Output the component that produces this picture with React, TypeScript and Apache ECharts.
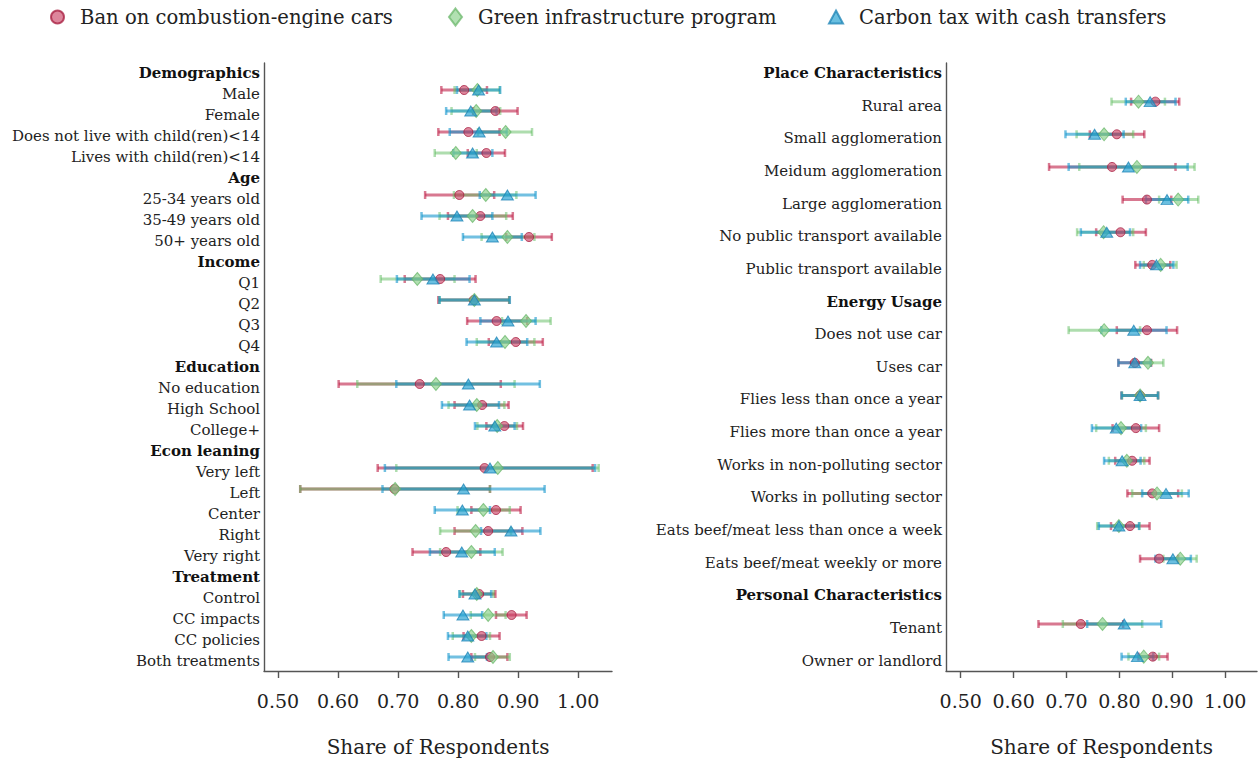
import React, { useEffect, useRef } from "react";
import * as echarts from "echarts";

const POLICIES = [
  "Ban on combustion-engine cars",
  "Green infrastructure program",
  "Carbon tax with cash transfers",
];

const X_TICKS = [0.5, 0.6, 0.7, 0.8, 0.9, 1.0];

// ---------- Left panel ----------
const leftLabels = [
  "Demographics", "Male", "Female", "Does not live with child(ren)<14", "Lives with child(ren)<14",
  "Age", "25-34 years old", "35-49 years old", "50+ years old",
  "Income", "Q1", "Q2", "Q3", "Q4",
  "Education", "No education", "High School", "College+",
  "Econ leaning", "Very left", "Left", "Center", "Right", "Very right",
  "Treatment", "Control", "CC impacts", "CC policies", "Both treatments",
];
// [estimate, low, high]; null = section header
const leftBan = [
  null, [0.81, 0.772, 0.848], [0.862, 0.825, 0.899], [0.817, 0.767, 0.869], [0.847, 0.816, 0.878],
  null, [0.802, 0.745, 0.86], [0.837, 0.783, 0.891], [0.918, 0.88, 0.956],
  null, [0.77, 0.711, 0.829], [0.826, 0.767, 0.885], [0.864, 0.815, 0.915], [0.896, 0.851, 0.941],
  null, [0.736, 0.601, 0.871], [0.84, 0.794, 0.884], [0.877, 0.847, 0.908],
  null, [0.844, 0.666, 1.024], [0.694, 0.537, 0.853], [0.863, 0.822, 0.904], [0.85, 0.794, 0.907], [0.78, 0.724, 0.837],
  null, [0.835, 0.808, 0.862], [0.889, 0.863, 0.914], [0.839, 0.809, 0.869], [0.853, 0.822, 0.882],
];
const leftGreen = [
  null, [0.832, 0.794, 0.869], [0.83, 0.789, 0.87], [0.879, 0.833, 0.923], [0.796, 0.761, 0.831],
  null, [0.846, 0.793, 0.897], [0.824, 0.769, 0.88], [0.882, 0.839, 0.927],
  null, [0.732, 0.671, 0.794], [0.827, 0.769, 0.885], [0.913, 0.873, 0.954], [0.878, 0.831, 0.927],
  null, [0.763, 0.632, 0.894], [0.831, 0.784, 0.877], [0.865, 0.832, 0.898],
  null, [0.866, 0.697, 1.034], [0.695, 0.537, 0.853], [0.842, 0.799, 0.886], [0.829, 0.77, 0.888], [0.822, 0.77, 0.874],
  null, [0.831, 0.803, 0.859], [0.85, 0.821, 0.879], [0.822, 0.791, 0.853], [0.858, 0.828, 0.886],
];
const leftCarbon = [
  null, [0.834, 0.798, 0.87], [0.821, 0.78, 0.864], [0.835, 0.786, 0.881], [0.824, 0.792, 0.857],
  null, [0.882, 0.836, 0.929], [0.798, 0.739, 0.857], [0.857, 0.808, 0.906],
  null, [0.758, 0.698, 0.819], [0.827, 0.769, 0.886], [0.883, 0.837, 0.929], [0.864, 0.814, 0.915],
  null, [0.817, 0.697, 0.936], [0.819, 0.773, 0.868], [0.861, 0.828, 0.894],
  null, [0.853, 0.678, 1.028], [0.809, 0.674, 0.944], [0.807, 0.761, 0.853], [0.888, 0.838, 0.937], [0.806, 0.753, 0.861],
  null, [0.828, 0.802, 0.855], [0.808, 0.776, 0.84], [0.816, 0.783, 0.847], [0.816, 0.784, 0.848],
];

// ---------- Right panel ----------
const rightLabels = [
  "Place Characteristics", "Rural area", "Small agglomeration", "Meidum agglomeration", "Large agglomeration",
  "No public transport available", "Public transport available",
  "Energy Usage", "Does not use car", "Uses car", "Flies less than once a year", "Flies more than once a year",
  "Works in non-polluting sector", "Works in polluting sector", "Eats beef/meat less than once a week",
  "Eats beef/meat weekly or more",
  "Personal Characteristics", "Tenant", "Owner or landlord",
];
const rightBan = [
  null, [0.868, 0.822, 0.913], [0.795, 0.744, 0.847], [0.786, 0.667, 0.906], [0.852, 0.806, 0.898],
  [0.802, 0.756, 0.85], [0.862, 0.83, 0.896],
  null, [0.852, 0.795, 0.909], [0.829, 0.798, 0.86], [0.839, 0.804, 0.873], [0.831, 0.787, 0.875],
  [0.824, 0.792, 0.857], [0.862, 0.815, 0.911], [0.82, 0.784, 0.857], [0.875, 0.839, 0.911],
  null, [0.727, 0.647, 0.807], [0.863, 0.836, 0.891],
];
const rightGreen = [
  null, [0.836, 0.785, 0.886], [0.771, 0.719, 0.826], [0.833, 0.724, 0.942], [0.911, 0.875, 0.949],
  [0.77, 0.72, 0.826], [0.878, 0.846, 0.908],
  null, [0.771, 0.704, 0.839], [0.854, 0.826, 0.883], [0.839, 0.805, 0.873], [0.803, 0.756, 0.85],
  [0.814, 0.78, 0.847], [0.871, 0.824, 0.918], [0.799, 0.758, 0.838], [0.915, 0.883, 0.946],
  null, [0.768, 0.693, 0.843], [0.846, 0.817, 0.875],
];
const rightCarbon = [
  null, [0.858, 0.812, 0.906], [0.753, 0.698, 0.808], [0.817, 0.704, 0.929], [0.89, 0.85, 0.93],
  [0.776, 0.727, 0.82], [0.87, 0.839, 0.902],
  null, [0.827, 0.766, 0.889], [0.829, 0.798, 0.859], [0.839, 0.804, 0.873], [0.794, 0.748, 0.841],
  [0.805, 0.771, 0.84], [0.888, 0.843, 0.931], [0.799, 0.761, 0.837], [0.901, 0.868, 0.935],
  null, [0.809, 0.739, 0.879], [0.834, 0.804, 0.864],
];

const FONT = "DejaVu Serif";
const LINE_COLORS = ["rgba(190,30,70,0.6)", "rgba(100,190,100,0.52)", "rgba(20,150,205,0.6)"];
const MARK_FILL = ["rgba(200,60,95,0.62)", "rgba(135,208,135,0.65)", "rgba(35,160,210,0.68)"];
const MARK_BORDER = ["rgba(165,25,60,0.75)", "rgba(100,180,100,0.7)", "rgba(25,130,180,0.75)"];
const SYMBOLS = ["circle", "diamond", "triangle"];
const SYMBOL_SIZES: any[] = [9, [11, 13], [12, 10]];

function buildSeries(panel: number, sets: any[][]) {
  const bars: any[] = [];
  const marks: any[] = [];
  sets.forEach((rows, k) => {
    const ci = rows
      .map((r: any, i: number) => (r ? [i, r[1], r[2]] : null))
      .filter((d: any) => d !== null);
    const est = rows
      .map((r: any, i: number) => (r ? [r[0], i] : null))
      .filter((d: any) => d !== null);
    bars.push({
      type: "custom",
      name: "ci-" + panel + "-" + k,
      xAxisIndex: panel,
      yAxisIndex: panel,
      encode: { x: [1, 2], y: 0 },
      data: ci,
      silent: true,
      renderItem: (params: any, api: any) => {
        const y = api.value(0);
        const a = api.coord([api.value(1), y]);
        const b = api.coord([api.value(2), y]);
        const c = 4;
        const col = LINE_COLORS[k];
        return {
          type: "group",
          children: [
            { type: "line", shape: { x1: a[0], y1: a[1], x2: b[0], y2: b[1] }, style: { stroke: col, lineWidth: 3 } },
            { type: "line", shape: { x1: a[0], y1: a[1] - c, x2: a[0], y2: a[1] + c }, style: { stroke: col, lineWidth: 2.5 } },
            { type: "line", shape: { x1: b[0], y1: b[1] - c, x2: b[0], y2: b[1] + c }, style: { stroke: col, lineWidth: 2.5 } },
          ],
        };
      },
    });
    marks.push({
      type: "scatter",
      name: POLICIES[k],
      xAxisIndex: panel,
      yAxisIndex: panel,
      data: est,
      symbol: SYMBOLS[k],
      symbolSize: SYMBOL_SIZES[k],
      itemStyle: { color: MARK_FILL[k], borderColor: MARK_BORDER[k], borderWidth: 1, opacity: 1 },
      z: 5,
    });
  });
  return [...bars, ...marks];
}

function yAxis(labels: string[], sets: any[][], min: number, max: number, gridIndex: number) {
  const idx = labels.map((_, i) => i);
  return {
    type: "value",
    gridIndex,
    inverse: true,
    min,
    max,
    splitLine: { show: false },
    axisTick: { show: false },
    axisLine: { show: true, lineStyle: { color: "#555", width: 1.4 } },
    axisLabel: {
      customValues: idx,
      margin: 4,
      padding: [8, 0, 0, 0],
      formatter: (v: number) => {
        const i = Math.round(v);
        const header = sets[0][i] === null;
        return header ? "{h|" + labels[i] + "}" : "{n|" + labels[i] + "}";
      },
      rich: {
        h: { fontFamily: FONT, fontSize: 15, fontWeight: "bold", color: "#111" },
        n: { fontFamily: FONT, fontSize: 15, color: "#222" },
      },
    },
  };
}

function xAxis(min: number, max: number, gridIndex: number) {
  return {
    type: "value",
    gridIndex,
    min,
    max,
    splitLine: { show: false },
    axisLine: { show: true, onZero: false, lineStyle: { color: "#555", width: 1.4 } },
    axisTick: { show: true, customValues: X_TICKS, length: 7, lineStyle: { color: "#555", width: 1.4 } },
    axisLabel: {
      customValues: X_TICKS,
      margin: 20,
      formatter: (v: number) => v.toFixed(2),
      fontFamily: FONT,
      fontSize: 19,
      color: "#222",
    },
    name: "Share of Respondents",
    nameLocation: "middle",
    nameGap: 66,
    nameTextStyle: { fontFamily: FONT, fontSize: 20, color: "#222" },
  };
}

function legend(i: number, left: number, icon: string, w: number, h: number) {
  return {
    show: true,
    left,
    top: 7,
    padding: 0,
    itemWidth: w,
    itemHeight: h,
    selectedMode: false,
    data: [{ name: POLICIES[i], icon }],
    textStyle: { fontFamily: FONT, fontSize: 19.6, color: "#222", padding: [10, 0, 0, 11] },
  };
}

export default function App() {
  const ref = useRef<HTMLDivElement>(null);
  useEffect(() => {
    if (!ref.current) return;
    const chart = echarts.init(ref.current, undefined, { renderer: "svg" });
    const leftSets = [leftBan, leftGreen, leftCarbon];
    const rightSets = [rightBan, rightGreen, rightCarbon];
    chart.setOption({
      animation: false,
      backgroundColor: "#fff",
      textStyle: { fontFamily: FONT },
      legend: [
        legend(0, 50, "circle", 13, 13),
        legend(1, 448, "diamond", 13, 17),
        legend(2, 828, "triangle", 14, 13),
      ],
      grid: [
        { left: 264, top: 63, width: 348, height: 608 },
        { left: 946, top: 63, width: 311, height: 608 },
      ],
      xAxis: [xAxis(0.4767, 1.0562, 0), xAxis(0.4722, 1.06, 1)],
      yAxis: [
        yAxis(leftLabels, leftSets, -0.286, 28.667, 0),
        yAxis(rightLabels, rightSets, -0.184, 18.44, 1),
      ],
      series: [...buildSeries(0, leftSets), ...buildSeries(1, rightSets)],
    });
    return () => chart.dispose();
  }, []);
  return (
    <div
      ref={ref}
      style={{ position: "fixed", left: 0, top: 0, width: 1259, height: 764, background: "#fff" }}
    />
  );
}
